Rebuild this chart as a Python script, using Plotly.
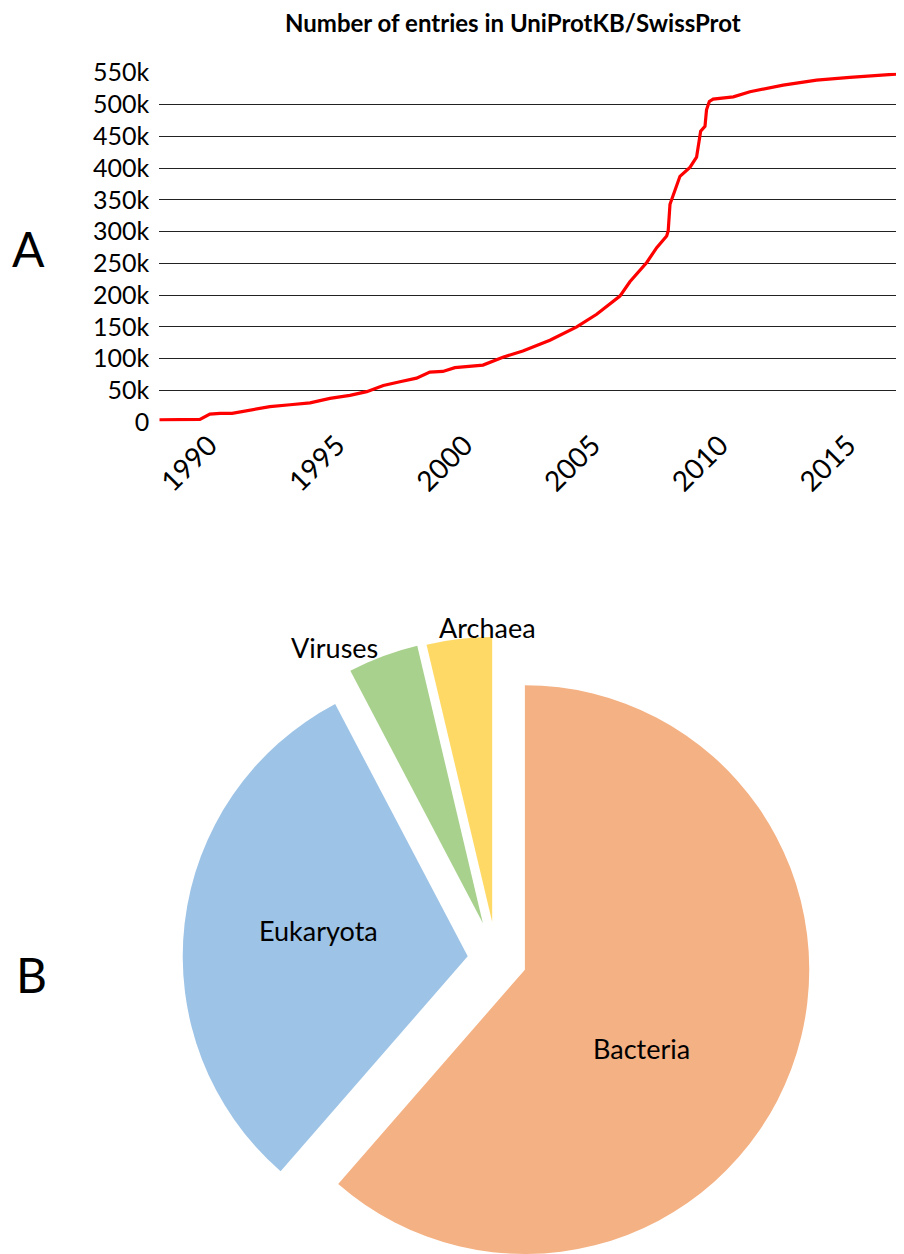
import math
import plotly.graph_objects as go

# ---------------- data ----------------
YEARS = [1988.05, 1989.64, 1990.03, 1990.43, 1990.90, 1991.60, 1992.38, 1993.17, 1993.95,
         1994.73, 1995.51, 1996.17, 1996.82, 1997.47, 1998.12, 1998.64, 1999.15, 1999.62,
         2000.72, 2001.50, 2002.28, 2003.34, 2004.39, 2005.17, 2006.08, 2006.47, 2007.13,
         2007.52, 2007.91, 2007.97, 2008.04, 2008.43, 2008.82, 2009.08, 2009.18, 2009.24,
         2009.41, 2009.47, 2009.58, 2009.73, 2010.52, 2011.17, 2012.47, 2013.78, 2015.08,
         2016.13, 2017.16]
ENTRIES = [4000, 4500, 12900, 14100, 14000, 18700, 24700, 27600, 30600,
           37600, 42400, 48200, 58000, 63800, 69500, 79000, 80000, 86000,
           90000, 102500, 112000, 129000, 150000, 170000, 198500, 221000, 251500,
           274800, 293000, 301000, 343000, 387000, 401000, 417000, 445000, 457800,
           465600, 491700, 504700, 508400, 512000, 520000, 530500, 538400, 542500,
           546000, 548500]

Y_TICK_VALUES = [0, 50000, 100000, 150000, 200000, 250000, 300000, 350000, 400000, 450000, 500000, 550000]
Y_TICK_LABELS = ["0", "50k", "100k", "150k", "200k", "250k", "300k", "350k", "400k", "450k", "500k", "550k"]
X_TICK_VALUES = [1990, 1995, 2000, 2005, 2010, 2015]
X_TICK_LABELS = ["1990", "1995", "2000", "2005", "2010", "2015"]

PIE_LABELS = ["Bacteria", "Eukaryota", "Viruses", "Archaea"]
PIE_VALUES = [61.4, 30.9, 4.0, 3.7]

# ---------------- style / layout ----------------
OFF = 8                      # page body margin
W, H = 896, 1246
FONT = "Lato"
PIE_COLORS = ["#F4B183", "#9DC3E6", "#A9D18E", "#FFD966"]
PIE_PULLS = [0.106, 0.102, 0.137, 0.133]     # fraction of radius
PIE_CX, PIE_CY, PIE_R = 496.6, 959.7, 285.0  # page pixels
PIE_TEXT_POS = {"Bacteria": (641, 1048), "Eukaryota": (318, 930),
                "Viruses": (334, 647), "Archaea": (487, 627)}


def px(x):
    return (x - OFF) / W


def py(y):
    return 1 - (y - OFF) / H


fig = go.Figure()

fig.add_trace(go.Scatter(
    x=YEARS, y=ENTRIES, mode="lines",
    line=dict(color="#FF0000", width=3.2),
    showlegend=False, xaxis="x", yaxis="y"))

# exploded pie: one trace per slice so each wedge gets its own offset
total = float(sum(PIE_VALUES))
cum = 0.0
for i, (lab, val) in enumerate(zip(PIE_LABELS, PIE_VALUES)):
    mid = (cum + val / 2.0) / total * 2 * math.pi
    cum += val
    cx = PIE_CX + PIE_PULLS[i] * PIE_R * math.sin(mid)
    cy = PIE_CY - PIE_PULLS[i] * PIE_R * math.cos(mid)
    dx0, dx1 = px(cx - PIE_R), px(cx + PIE_R)
    dy0, dy1 = py(cy + PIE_R), py(cy - PIE_R)
    cols = [PIE_COLORS[j] if j == i else "rgba(0,0,0,0)" for j in range(len(PIE_VALUES))]
    fig.add_trace(go.Pie(
        labels=PIE_LABELS, values=PIE_VALUES, sort=False, direction="clockwise",
        rotation=0, marker=dict(colors=cols, line=dict(width=0)),
        textinfo="none", showlegend=False, hoverinfo="label+percent",
        domain=dict(x=[max(0, dx0), min(1, dx1)], y=[max(0, dy0), min(1, dy1)])))

annotations = [
    dict(text="A", x=px(28), y=py(249), font=dict(size=48, color="black", family=FONT)),
    dict(text="B", x=px(31), y=py(975), font=dict(size=48, color="black", family=FONT)),
    dict(text="<b>Number of entries in UniProtKB/SwissProt</b>", x=px(513), y=py(23),
         font=dict(size=24, color="black", family=FONT)),
]
for lab in PIE_LABELS:
    tx, ty = PIE_TEXT_POS[lab]
    annotations.append(dict(text=lab, x=px(tx), y=py(ty),
                            font=dict(size=27, color="black", family=FONT)))
for a in annotations:
    a.update(xref="paper", yref="paper", showarrow=False, xanchor="center", yanchor="middle")

x_left = 159.3
y_top = 72.7
y_bot = 422.3

fig.update_layout(
    width=W, height=H,
    margin=dict(l=0, r=0, t=0, b=0),
    paper_bgcolor="white", plot_bgcolor="white",
    font=dict(family=FONT, color="black"),
    xaxis=dict(domain=[px(x_left), 1], range=[1988.05, 2017.20],
               tickvals=X_TICK_VALUES, ticktext=X_TICK_LABELS, tickangle=-45,
               showgrid=False, zeroline=False, showline=False, ticks="",
               tickfont=dict(size=28, family=FONT, color="black"), automargin=False),
    yaxis=dict(domain=[py(y_bot), py(y_top)], range=[0, 550000],
               tickvals=Y_TICK_VALUES, ticktext=Y_TICK_LABELS,
               showgrid=True, gridcolor="#222222", gridwidth=1,
               zeroline=False, showline=False, ticks="", ticklabelstandoff=9,
               tickfont=dict(size=25, family=FONT, color="black"), automargin=False),
    annotations=annotations,
)

fig.write_html("out.html")
